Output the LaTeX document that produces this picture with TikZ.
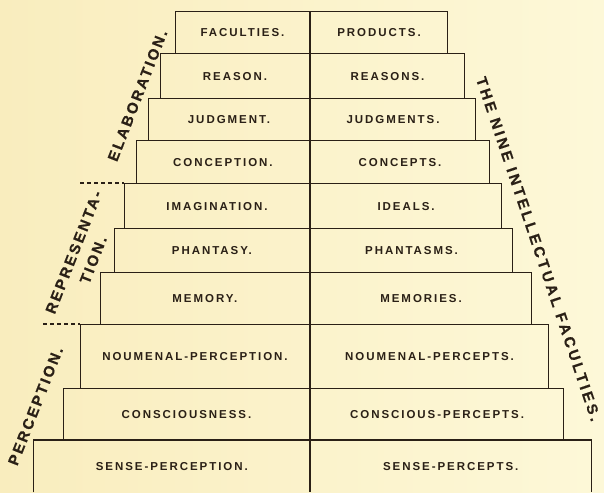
\documentclass[tikz,border=0pt]{standalone}
\usepackage{fontspec}
\usepackage{tikz}
\usetikzlibrary{positioning}
\newfontfamily\cellfont[LetterSpace=17]{Liberation Sans Bold}
\newfontfamily\sidefont[LetterSpace=16,FakeBold=0.6]{Liberation Sans Bold}
\newfontfamily\titlefont[LetterSpace=20,FakeBold=0.6]{Liberation Sans Bold}
\definecolor{ink}{RGB}{42,32,22}
\definecolor{paperL}{RGB}{249,237,190}
\definecolor{paperR}{RGB}{253,248,216}

\begin{document}
\begin{tikzpicture}[
      x=1pt, y=-1pt,
      cell/.style    = {rectangle, draw=ink, line width=1.1pt, inner sep=0pt,
                        text=ink, font=\cellfont\fontsize{11.5}{13}\selectfont},
      opencell/.style= {rectangle, inner sep=0pt, text=ink,
                        font=\cellfont\fontsize{11.5}{13}\selectfont},
      rule/.style    = {draw=ink, line width=1.1pt},
      sepline/.style = {draw=ink, line width=1.1pt, dash pattern=on 3.5pt off 3.5pt},
      side/.style    = {inner sep=0pt, text=ink, align=center,
                        font=\sidefont\fontsize{15}{21}\selectfont},
      title/.style   = {inner sep=0pt, text=ink,
                        font=\titlefont\fontsize{15}{18}\selectfont},
    ]
    \shade[left color=paperL, right color=paperR] (0,0) rectangle (604,492);
    \useasboundingbox (0,0) rectangle (604,492);

    %% ------------------------------------------------ the steps
    \foreach \n/\t/\b/\l/\r/\fac/\prod in {
        1/11/53/176/447/FACULTIES./PRODUCTS.,
        2/53/98/161/464/REASON./REASONS.,
        3/98/140/149/475/JUDGMENT./JUDGMENTS.,
        4/140/183/137/489/CONCEPTION./CONCEPTS.,
        5/183/228/125/501/IMAGINATION./IDEALS.,
        6/228/272/115/512/PHANTASY./PHANTASMS.,
        7/272/324/101/531/MEMORY./MEMORIES.,
        8/324/388/81/548/NOUMENAL-PERCEPTION./NOUMENAL-PERCEPTS.,
        9/388/440/64/563/CONSCIOUSNESS./CONSCIOUS-PERCEPTS.}{
      \node[cell, anchor=north east, minimum width={(310-\l)*1pt},
            minimum height={(\b-\t)*1pt}] (f\n) at (310,\t) {\fac};
      \node[cell, anchor=north west, minimum width={(\r-310)*1pt},
            minimum height={(\b-\t)*1pt}] (p\n) at (310,\t) {\prod};
    }

    %% ------------------------------------------------ bottom step (open below)
    \node[opencell, anchor=north east, minimum width=276pt, minimum height=52pt]
      (f10) at (310,440) {SENSE-PERCEPTION.};
    \node[opencell, anchor=north west, minimum width=281pt, minimum height=52pt]
      (p10) at (310,440) {SENSE-PERCEPTS.};
    \draw[rule] (f10.south west) -- (f10.north west) -- (p10.north east) -- (p10.south east);
    \draw[rule] (f10.north east) -- (f10.south east);

    %% ------------------------------------------------ group boundaries
    \coordinate (dashU) at (80,183);
    \coordinate (dashL) at (43,324);
    \draw[sepline] (dashU) -- (f5.north west);
    \draw[sepline] (dashL) -- (f8.north west);

    %% ------------------------------------------------ side labels
    \node[side, rotate=68.7] (elab) at (137.5,95.5) {ELABORATION.};
    \node[side, rotate=68.6] (repr) at (83.5,256) {REPRESENTA-\\TION.};
    \node[side, rotate=68.5] (perc) at (35.5,406) {PERCEPTION.};
    \node[title, rotate=-71.4] (nine) at (538.5,249) {THE NINE INTELLECTUAL FACULTIES.};
  \end{tikzpicture}
\end{document}
